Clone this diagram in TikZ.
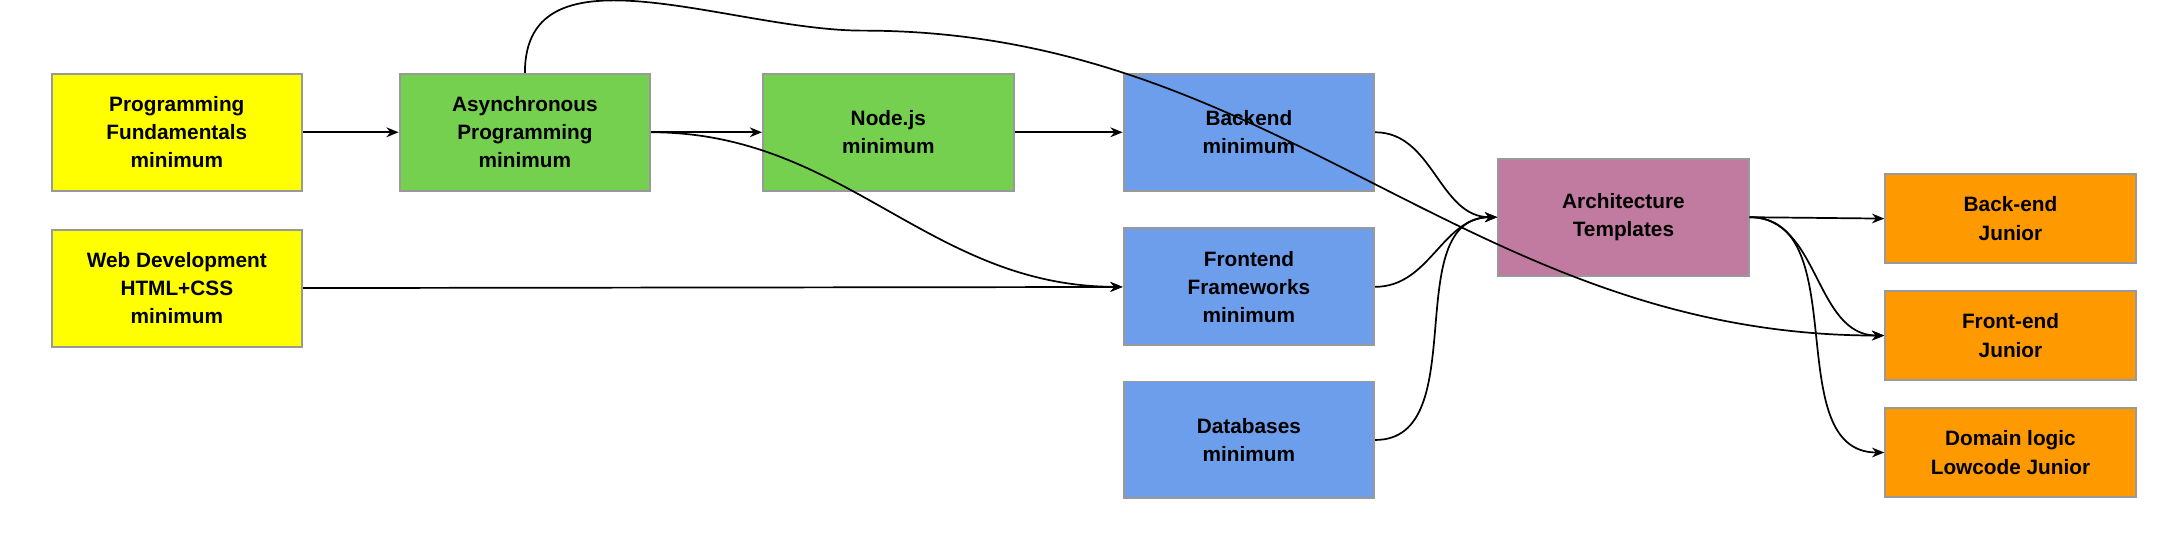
\documentclass[tikz,border=0pt]{standalone}
\usepackage{fontspec}
\setmainfont{Liberation Sans}
\usetikzlibrary{arrows.meta}
\definecolor{cyellow}{HTML}{FFFF00}
\definecolor{cgreen}{HTML}{76D04F}
\definecolor{cblue}{HTML}{6D9EEB}
\definecolor{cpurple}{HTML}{C27BA0}
\definecolor{corange}{HTML}{FF9900}
\definecolor{cgray}{HTML}{999999}
\begin{document}
\begin{tikzpicture}[
    x=0.02cm, y=-0.02cm,
    box/.style={draw=cgray, line width=0.8pt, minimum width=3.6cm, minimum height=1.68cm,
      align=center, font=\bfseries\fontsize{8.5}{11.5}\selectfont, inner sep=0pt},
    junior/.style={box, minimum height=1.28cm, fill=corange},
    link/.style={-{Stealth[length=5pt,width=4pt]}, line width=0.7pt}]

  \useasboundingbox (0,0) rectangle (1560,400.8);

  % first column
  \node [box, fill=cyellow] (progfund) at (127,95) {Programming\\Fundamentals\\minimum};
  \node [box, fill=cyellow] (webdev) at (127,207) {Web Development\\HTML+CSS\\minimum};

  % green steps
  \node [box, fill=cgreen] (async) at (377,95) {Asynchronous\\Programming\\minimum};
  \node [box, fill=cgreen] (nodejs) at (638,95) {Node.js\\minimum};

  % blue steps
  \node [box, fill=cblue] (backend) at (897,95) {Backend\\minimum};
  \node [box, fill=cblue] (frontend) at (897,206) {Frontend\\Frameworks\\minimum};
  \node [box, fill=cblue] (databases) at (897,316) {Databases\\minimum};

  % architecture
  \node [box, fill=cpurple] (arch) at (1166,156) {Architecture\\Templates};

  % juniors
  \node [junior] (backjun) at (1444,157) {Back-end\\Junior};
  \node [junior] (frontjun) at (1444,241) {Front-end\\Junior};
  \node [junior] (domainjun) at (1444,325) {Domain logic\\Lowcode Junior};

  \coordinate (peak) at (620,22);

  % connectors
  \draw [link] (progfund) -- (async);
  \draw [link] (async) -- (nodejs);
  \draw [link] (nodejs) -- (backend);
  \draw [link] (async.east) to [out=0, in=180] (frontend.west);
  \draw [link] (webdev) -- (frontend);
  \draw [link] (async.north) to [out=90, in=180] (peak)
    to [out=0, in=180] (frontjun.west);

  \draw [link] (backend.east) to [out=0, in=180] (arch.west);
  \draw [link] (frontend.east) to [out=0, in=180] (arch.west);
  \draw [link] (databases.east) to [out=0, in=180] (arch.west);

  \draw [link] (arch.east) -- (backjun.west);
  \draw [link] (arch.east) to [out=0, in=180] (frontjun.west);
  \draw [link] (arch.east) to [out=0, in=180] (domainjun.west);
\end{tikzpicture}
\end{document}
